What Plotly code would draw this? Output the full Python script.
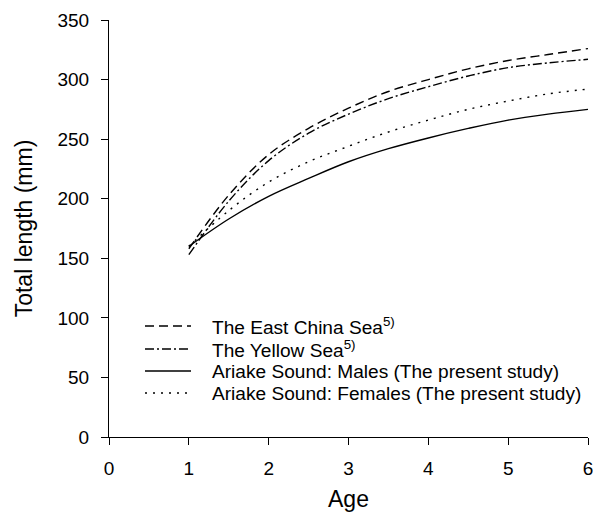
import plotly.graph_objects as go

ages = [1, 1.5, 2, 2.5, 3, 3.5, 4, 4.5, 5, 5.5, 6]
east_china_sea = [158, 203, 237, 259, 276, 290, 300, 309, 316, 321, 326]
yellow_sea = [153, 198, 232, 255, 271, 284, 294, 303, 310, 314, 317]
ariake_males = [160, 183, 202, 217, 231, 242, 251, 259, 266, 271, 275]
ariake_females = [160, 190, 214, 231, 244, 256, 266, 275, 282, 288, 292]

x_ticks = [0, 1, 2, 3, 4, 5, 6]
y_ticks = [0, 50, 100, 150, 200, 250, 300, 350]

names = ["The East China Sea<sup>5)</sup>", "The Yellow Sea<sup>5)</sup>",
         "Ariake Sound: Males (The present study)",
         "Ariake Sound: Females (The present study)"]
series = [east_china_sea, yellow_sea, ariake_males, ariake_females]
dashes = ["9px,5px", "9px,3px,2px,3px", "solid", "2px,6px"]

W, H = 593, 512
L, R, T, B = 109, 5, 20, 75
pw, ph = W - L - R, H - T - B

def px(xp):  # screen pixel -> paper x
    return (xp - L) / pw

def py(yp):  # screen pixel -> paper y
    return (H - B - yp) / ph

fig = go.Figure()
for n, s, d in zip(names, series, dashes):
    fig.add_trace(go.Scatter(x=ages, y=s, mode="lines", name=n, showlegend=False,
                             line=dict(color="black", width=1.4, dash=d, shape="spline")))

# manual legend
leg_rows = [326, 349, 371, 393]
shapes, annots = [], []
for n, d, yy in zip(names, dashes, leg_rows):
    shapes.append(dict(type="line", xref="paper", yref="paper",
                       x0=px(145), x1=px(191), y0=py(yy), y1=py(yy),
                       line=dict(color="black", width=1.4, dash=d)))
    annots.append(dict(xref="paper", yref="paper", x=px(210), y=py(yy),
                       xanchor="left", yanchor="middle", text=n, showarrow=False,
                       font=dict(size=19.1, color="black")))

font = dict(family="Liberation Sans, Arial, sans-serif", size=19, color="black")
fig.update_layout(
    width=W, height=H,
    margin=dict(l=L, r=R, t=T, b=B),
    plot_bgcolor="white", paper_bgcolor="white",
    font=font,
    showlegend=False,
    shapes=shapes, annotations=annots,
    xaxis=dict(range=[0, 6], tickvals=x_ticks, showgrid=False, zeroline=False,
               showline=True, linecolor="black", linewidth=1.2, ticks="outside",
               ticklen=7, tickcolor="black", tickwidth=1.2, automargin=False,
               ticklabeloverflow="allow", ticklabelstandoff=7,
               title=dict(text="Age", standoff=14)),
    yaxis=dict(range=[0, 350], tickvals=y_ticks, showgrid=False,
               zeroline=False, showline=True, linecolor="black", linewidth=1.2,
               ticks="outside", ticklen=7, tickcolor="black", tickwidth=1.2,
               automargin=False, ticklabelstandoff=8,
               title=dict(text="Total length (mm)", standoff=18)),
)
fig.write_html("out.html", config={"displayModeBar": False},
               post_script="document.body.style.margin='0';document.body.style.overflow='hidden';")
